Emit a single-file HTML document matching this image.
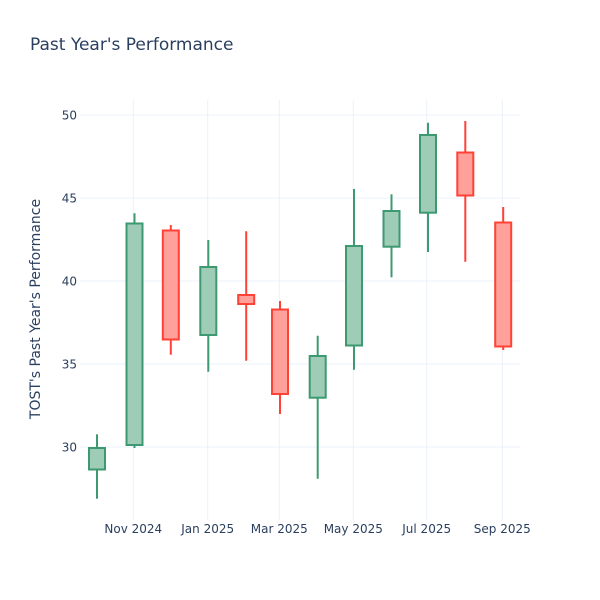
<!DOCTYPE html>
<html><head><meta charset="utf-8"><style>
html,body{margin:0;padding:0;background:#fff;}
svg{display:block;font-family:"DejaVu Sans","Liberation Sans",sans-serif;}
</style></head><body>
<svg width="600" height="600" viewBox="0 0 600 600" xmlns="http://www.w3.org/2000/svg">
<rect width="600" height="600" fill="#fff"/>
<g stroke="#EBF0F8" stroke-width="1">
<line x1="80" x2="520" y1="115" y2="115"/>
<line x1="80" x2="520" y1="198" y2="198"/>
<line x1="80" x2="520" y1="281" y2="281"/>
<line x1="80" x2="520" y1="364" y2="364"/>
<line x1="80" x2="520" y1="447" y2="447"/>
<line x1="133.3" x2="133.3" y1="100" y2="520"/>
<line x1="207.7" x2="207.7" y1="100" y2="520"/>
<line x1="279.3" x2="279.3" y1="100" y2="520"/>
<line x1="353.3" x2="353.3" y1="100" y2="520"/>
<line x1="426.7" x2="426.7" y1="100" y2="520"/>
<line x1="502.3" x2="502.3" y1="100" y2="520"/>
</g>
<text x="30" y="50" font-size="17" fill="#2a3f5f">Past Year's Performance</text>
<g font-size="12" fill="#2a3f5f" text-anchor="end">
<text x="77" y="119.5">50</text>
<text x="77" y="202.5">45</text>
<text x="77" y="285.5">40</text>
<text x="77" y="368.5">35</text>
<text x="77" y="451.5">30</text>
</g>
<g font-size="12" fill="#2a3f5f" text-anchor="middle">
<text x="133.3" y="533">Nov 2024</text>
<text x="207.7" y="533">Jan 2025</text>
<text x="279.3" y="533">Mar 2025</text>
<text x="353.3" y="533">May 2025</text>
<text x="426.7" y="533">Jul 2025</text>
<text x="502.3" y="533">Sep 2025</text>
</g>
<text transform="translate(40,309) rotate(-90)" font-size="14" fill="#2a3f5f" text-anchor="middle">TOST's Past Year's Performance</text>

<g stroke-width="2">
<!-- green -->
<g stroke="#3D9970" fill="#9ECCB7">
<line x1="97" x2="97" y1="434.3" y2="498.7"/><rect x="89" y="448" width="16" height="21.5"/>
<line x1="134.5" x2="134.5" y1="213.3" y2="448"/><rect x="126.5" y="223.5" width="16" height="221.5"/>
<line x1="208.3" x2="208.3" y1="240" y2="371.7"/><rect x="200.3" y="267" width="16" height="68"/>
<line x1="317.7" x2="317.7" y1="335.7" y2="478.7"/><rect x="309.7" y="356" width="16" height="41.7"/>
<line x1="354" x2="354" y1="189" y2="369.7"/><rect x="346" y="246" width="16" height="99.5"/>
<line x1="391.5" x2="391.5" y1="194.3" y2="277.3"/><rect x="383.5" y="211" width="16" height="35.7"/>
<line x1="428" x2="428" y1="122.7" y2="252"/><rect x="420" y="135" width="16" height="77.7"/>
</g>
<g stroke="#FF4136" fill="#FFA09A">
<line x1="170.8" x2="170.8" y1="225" y2="354.7"/><rect x="162.8" y="230.5" width="16" height="109"/>
<line x1="246.2" x2="246.2" y1="231.3" y2="360.7"/><rect x="238.2" y="295" width="16" height="9"/>
<line x1="280" x2="280" y1="301" y2="414"/><rect x="272" y="309.5" width="16" height="84.5"/>
<line x1="465.3" x2="465.3" y1="121" y2="261.7"/><rect x="457.3" y="152.5" width="16" height="43"/>
<line x1="503.2" x2="503.2" y1="207" y2="350"/><rect x="495.2" y="222.5" width="16" height="124"/>
</g>
</g>
</svg>
</body></html>
